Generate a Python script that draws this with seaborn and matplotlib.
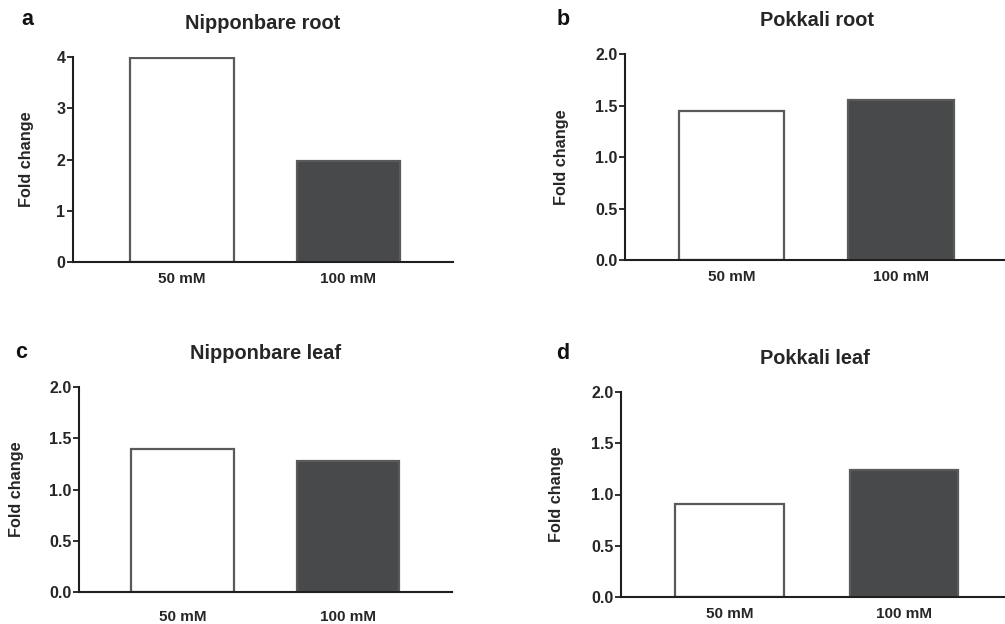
import matplotlib
matplotlib.use("Agg")
import matplotlib.pyplot as plt
import seaborn as sns
import numpy as np

# Valores (fold change)
concentraciones = ['50 mM', '100 mM']
nipponbare_root = [3.98, 1.97]
pokkali_root = [1.45, 1.55]
nipponbare_leaf = [1.40, 1.28]
pokkali_leaf = [0.91, 1.24]

titulos = ['Nipponbare root', 'Pokkali root', 'Nipponbare leaf', 'Pokkali leaf']
letras = ['a', 'b', 'c', 'd']

sns.set_style('ticks')
plt.rcParams['font.family'] = ['Liberation Sans', 'DejaVu Sans']
plt.rcParams['font.weight'] = 'bold'

TXT = '#262626'
W, H = 1005, 624


def caja(left, top, right, bottom):
    # convierte pixeles a fracciones de figura
    return [left / W, 1 - bottom / H, (right - left) / W, (bottom - top) / H]


paneles = [
    dict(datos=nipponbare_root, rect=caja(73, 57, 453, 262), xlim=(-0.655, 1.628),
         ylim=4, paso=1, fmt='{:.0f}', lab_x=-0.103, pad_x=7, letra=(27, 25)),
    dict(datos=pokkali_root, rect=caja(625, 54, 1008, 260), xlim=(-0.628, 1.631),
         ylim=2, paso=0.5, fmt='{:.1f}', lab_x=-0.146, pad_x=7.5, letra=(563, 25)),
    dict(datos=nipponbare_leaf, rect=caja(79, 387, 452, 592), xlim=(-0.625, 1.628),
         ylim=2, paso=0.5, fmt='{:.1f}', lab_x=-0.147, pad_x=13, letra=(21, 358)),
    dict(datos=pokkali_leaf, rect=caja(621, 392, 1008, 597), xlim=(-0.622, 1.596),
         ylim=2, paso=0.5, fmt='{:.1f}', lab_x=-0.147, pad_x=7, letra=(563, 359)),
]

fig = plt.figure(figsize=(W / 100, H / 100), dpi=100)

for p, titulo, letra in zip(paneles, titulos, letras):
    ax = fig.add_axes(p['rect'])
    sns.barplot(x=concentraciones, y=p['datos'], hue=concentraciones,
                palette=['white', '#48494b'], edgecolor='#5a5a5a', linewidth=1.6,
                width=0.62, legend=False, ax=ax)
    ax.set_xlim(*p['xlim'])
    ax.set_ylim(0, p['ylim'])
    ticks = np.arange(0, p['ylim'] + p['paso'] / 2, p['paso'])
    ax.set_yticks(ticks)
    ax.set_yticklabels([p['fmt'].format(t) for t in ticks])
    sns.despine(ax=ax)
    for s in ['left', 'bottom']:
        ax.spines[s].set_linewidth(1.5)
        ax.spines[s].set_color('#1f1f1f')
    ax.tick_params(axis='y', length=4, width=1.3, color='#1f1f1f', labelsize=11.5,
                   labelcolor=TXT, pad=1.5)
    ax.tick_params(axis='x', length=0, labelsize=11, labelcolor=TXT, pad=p['pad_x'])
    for lbl in ax.get_xticklabels() + ax.get_yticklabels():
        lbl.set_fontweight('bold')
    ax.set_xlabel('')
    ax.set_ylabel('Fold change', fontsize=11.7, fontweight='bold', color=TXT)
    ax.yaxis.set_label_coords(p['lab_x'], 0.5)
    ax.set_title(titulo, fontsize=14.4, fontweight='bold', color=TXT, pad=20)
    fig.text(p['letra'][0] / W, 1 - p['letra'][1] / H, letra, fontsize=15.5,
             fontweight='bold', color='#111111', ha='center', va='baseline')

plt.savefig('out.png', dpi=100)
